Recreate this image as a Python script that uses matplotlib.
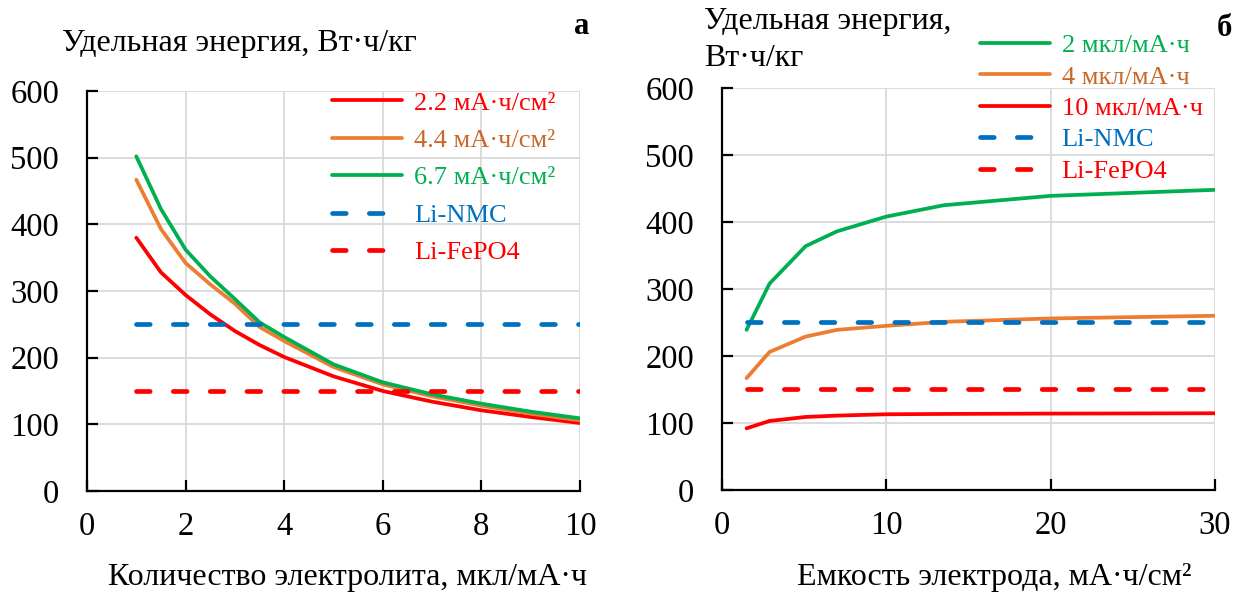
import matplotlib
matplotlib.use("Agg")
import matplotlib.pyplot as plt

plt.rcParams['font.family'] = ['Liberation Serif', 'DejaVu Serif']

RED = '#FF0000'
ORANGE = '#ED7D31'
ORANGE_TEXT = '#C8682A'
GREEN = '#00B050'
BLUE = '#0070C0'

# ---- panel a: energy vs electrolyte amount ----
electrolyte = [1, 1.5, 2, 2.5, 3, 3.5, 4, 5, 6, 7, 8, 9, 10]
e_22 = [380, 328, 294, 265, 240, 219, 201, 172, 150, 134, 121, 111, 102]
e_44 = [467, 393, 342, 310, 281, 246, 225, 186, 160, 142, 128, 116, 106]
e_67 = [502, 423, 362, 322, 288, 253, 231, 190, 163, 145, 131, 119, 109]
labels_a = ['2.2 мА·ч/см²', '4.4 мА·ч/см²', '6.7 мА·ч/см²']

# ---- panel b: energy vs electrode capacity ----
capacity = [1.5, 2.9, 5.1, 7, 10, 13.5, 20, 30]
e_2 = [239, 308, 364, 386, 408, 425, 439, 448]
e_4 = [167, 206, 229, 239, 245, 251, 256, 260]
e_10 = [92, 103, 109, 111, 113, 113.5, 114, 114.5]
labels_b = ['2 мкл/мА·ч', '4 мкл/мА·ч', '10 мкл/мА·ч']

# reference chemistries
li_nmc = 250
li_fepo4 = 150

fig = plt.figure(figsize=(12.34, 5.95), dpi=100)
ax1 = fig.add_axes([0.0705, 0.1748, 0.3995, 0.6722])
ax2 = fig.add_axes([0.585, 0.1765, 0.3995, 0.6756])

solid = dict(lw=2.7, solid_capstyle='round', solid_joinstyle='round')
dashed = dict(lw=3.4, dashes=(2.9, 4.9), dash_capstyle='round')


def style_axes(ax, xmax, xstep):
    ax.set_xlim(0, xmax)
    ax.set_ylim(0, 600)
    ax.set_xticks(range(0, xmax + 1, xstep))
    ax.set_yticks(range(0, 601, 100))
    ax.grid(True, color='#D9D9D9', lw=1.3)
    ax.set_axisbelow(True)
    for s in ['top', 'right']:
        ax.spines[s].set_visible(False)
    for s in ['left', 'bottom']:
        ax.spines[s].set_linewidth(1.6)
    ax.tick_params(direction='in', length=8, width=1.6, labelsize=23.5)
    ax.tick_params(axis='y', pad=20)
    ax.tick_params(axis='x', pad=15)


ax1.plot(electrolyte, e_22, color=RED, label=labels_a[0], **solid)
ax1.plot(electrolyte, e_44, color=ORANGE, label=labels_a[1], **solid)
ax1.plot(electrolyte, e_67, color=GREEN, label=labels_a[2], **solid)
ax1.plot([electrolyte[0], electrolyte[-1]], [li_nmc, li_nmc], color=BLUE, label='Li-NMC', **dashed)
ax1.plot([electrolyte[0], electrolyte[-1]], [li_fepo4, li_fepo4], color=RED, label='Li-FePO4', **dashed)
style_axes(ax1, 10, 2)

ax2.plot(capacity, e_2, color=GREEN, label=labels_b[0], **solid)
ax2.plot(capacity, e_4, color=ORANGE, label=labels_b[1], **solid)
ax2.plot(capacity, e_10, color=RED, label=labels_b[2], **solid)
ax2.plot([capacity[0], capacity[-1]], [li_nmc, li_nmc], color=BLUE, label='Li-NMC', **dashed)
ax2.plot([capacity[0], capacity[-1]], [li_fepo4, li_fepo4], color=RED, label='Li-FePO4', **dashed)
style_axes(ax2, 30, 10)

leg_kw = dict(loc='upper left', frameon=False, fontsize=19, handlelength=2.65,
              handletextpad=0.45, borderpad=0, borderaxespad=0)
leg1 = ax1.legend(bbox_to_anchor=(0.497, 1.0), labelspacing=0.53, **leg_kw)
leg2 = ax2.legend(bbox_to_anchor=(0.523, 1.135), labelspacing=0.3, **leg_kw)
for leg in (leg1, leg2):
    for line, txt in zip(leg.get_lines(), leg.get_texts()):
        c = line.get_color()
        txt.set_color(ORANGE_TEXT if c == ORANGE else c)

# axis titles
fig.text(62 / 1234, 1 - 43 / 595, 'Удельная энергия, Вт·ч/кг', fontsize=23, va='center', ha='left')
fig.text(704 / 1234, 1 - 22 / 595, 'Удельная энергия,', fontsize=23, va='center', ha='left')
fig.text(704 / 1234, 1 - 59 / 595, 'Вт·ч/кг', fontsize=23, va='center', ha='left')
fig.text(347 / 1234, 1 - 578 / 595, 'Количество электролита, мкл/мА·ч', fontsize=23, va='center', ha='center')
fig.text(994 / 1234, 1 - 578 / 595, 'Емкость электрода, мА·ч/см²', fontsize=23, va='center', ha='center')

# panel letters
fig.text(589 / 1234, 1 - 27 / 595, 'а', fontsize=22, fontweight='bold', va='center', ha='right')
fig.text(1232 / 1234, 1 - 29 / 595, 'б', fontsize=22, fontweight='bold', va='center', ha='right')

fig.savefig('out.png', dpi=100)
